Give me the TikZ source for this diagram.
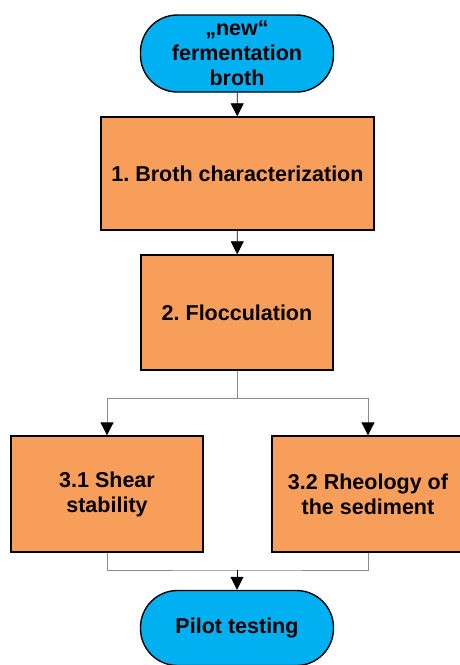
\documentclass[tikz,border=0pt]{standalone}
\usepackage{fontspec}
\setmainfont{Liberation Sans}
\usetikzlibrary{arrows.meta,positioning,calc}
\definecolor{flowBlue}{HTML}{00B0F0}
\definecolor{flowOrange}{HTML}{F79E5B}
\definecolor{flowGrey}{HTML}{8C8C8C}
\frenchspacing
\tikzset{
  >={Triangle[length=13pt,width=13pt,color=black]},
  terminal/.style={draw=black, line width=1.4pt, fill=flowBlue, rounded corners=37pt,
              minimum width=193pt, minimum height=77pt, align=center, inner sep=0pt,
              font=\fontsize{21.5}{25}\selectfont\bfseries},
  process/.style={draw=black, line width=1.4pt, fill=flowOrange, align=center, inner sep=0pt,
              font=\fontsize{21.5}{25}\selectfont\bfseries},
  flow/.style={->, draw=black, line width=0.8pt},
  branch/.style={draw=flowGrey, line width=1pt},
}

\begin{document}
\begin{tikzpicture}[x=1pt,y=-1pt]
  \useasboundingbox (0,0) rectangle (460,665);
  \clip (0,0) rectangle (460,665);
  % main column
  \node[terminal] (start) at (237,53.5) {„new“\\fermentation\\broth};
  \node[process,minimum width=273pt,minimum height=113pt] (charact) at (237.5,173.5) {1. Broth characterization};
  \node[process,minimum width=192pt,minimum height=115pt] (floc) at (237,312.5) {2. Flocculation};
  % parallel steps
  \node[process,minimum width=192pt,minimum height=116pt] (shear) at (107,494) {3.1 Shear\\stability};
  \node[process,minimum width=192pt,minimum height=116pt] (rheo) at (368,494) {3.2 Rheology of\\the sediment};
  \node[terminal,minimum height=75pt] (pilot) at (237,628) {Pilot testing};
  \draw[flow] (start) -- (charact);
  \draw[flow] (charact) -- (floc);
  \coordinate (split) at (237,398);
  \coordinate (join) at (237,570);
  \draw[branch] (floc.south) -- (split);
  \draw[branch,->] (split) -| (shear.north);
  \draw[branch,->] (split) -| (rheo.north);
  \draw[branch] (shear.south) |- (join) -| (rheo.south);
  \draw[flow] (join) -- (pilot.north);
\end{tikzpicture}
\end{document}
